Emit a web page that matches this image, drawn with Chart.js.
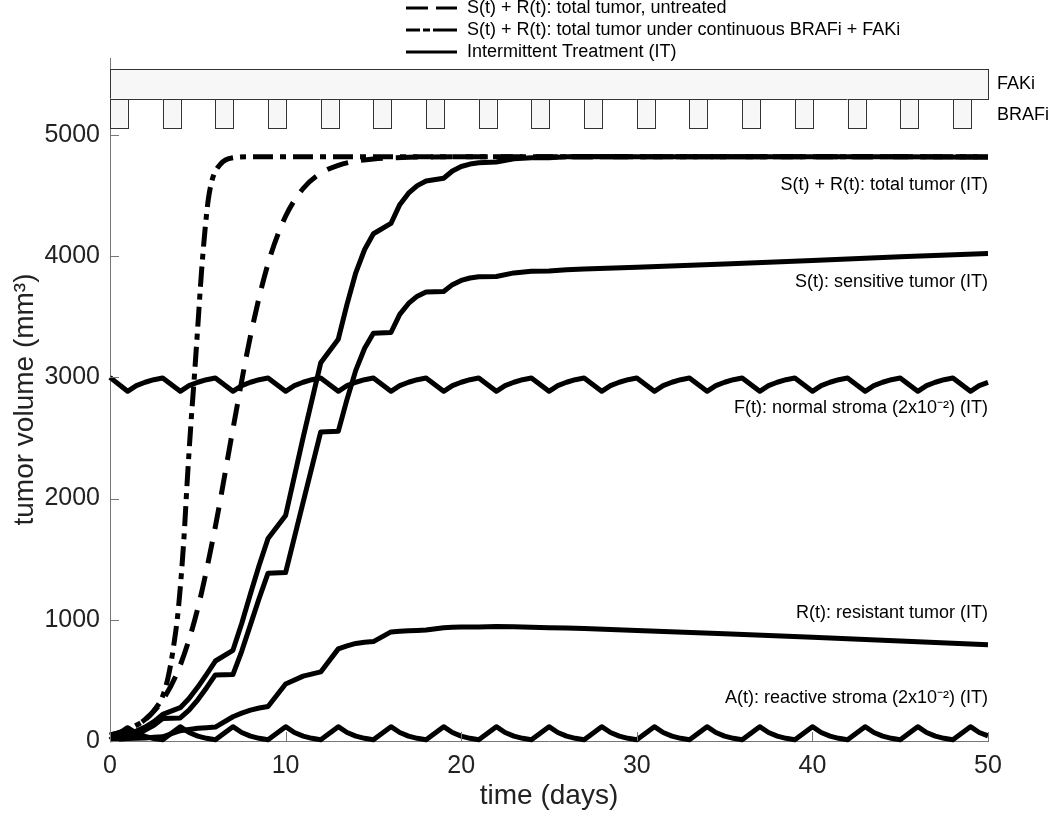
<!DOCTYPE html>
<html>
<head>
<meta charset="utf-8">
<script src="https://cdn.jsdelivr.net/npm/chart.js@4.4.0/dist/chart.umd.min.js"></script>
<style>
  html, body { margin: 0; padding: 0; background: #fff; }
</style>
</head>
<body>
<canvas id="myChart" width="1050" height="818"></canvas>
<script>
// untreated total tumour (dashed)
const untreatedDays = [0, 1, 2, 3, 4, 5, 6, 7, 8, 9, 10, 11, 12, 13, 14, 15, 16, 17, 18, 20, 50];
const untreated = [47, 92, 178, 338, 625, 1095, 1770, 2573, 3342, 3938, 4329, 4558, 4684, 4750, 4784, 4802, 4811, 4816, 4818, 4820, 4820];

// continuous BRAFi + FAKi total tumour (dash-dot)
const continuousDays = [0, 0.5, 1, 1.5, 2, 2.5, 3, 3.3, 3.6, 3.9, 4.2, 4.4, 4.6, 4.8, 5, 5.2, 5.4, 5.6, 5.8, 6, 6.3, 6.6, 7, 8, 50];
const continuous = [50, 70, 95, 130, 175, 250, 370, 520, 760, 1100, 1650, 2150, 2600, 3000, 3420, 3850, 4200, 4470, 4620, 4700, 4760, 4795, 4812, 4820, 4820];

// intermittent treatment curves
const itDays = [0, 1, 1.5, 2, 2.5, 3, 4, 4.5, 5, 5.5, 6, 7, 7.5, 8, 8.5, 9, 10, 11, 12, 13, 13.5, 14, 14.5, 15, 16, 16.5, 17, 17.5, 18, 19, 19.5, 20, 20.5, 21, 22, 23, 24, 25, 26, 27, 30, 35, 40, 45, 50];
const totalIT = [50, 62, 82, 115, 160, 220, 275, 350, 445, 550, 660, 748, 970, 1215, 1452, 1670, 1860, 2505, 3120, 3315, 3605, 3865, 4055, 4185, 4270, 4425, 4520, 4582, 4620, 4643, 4703, 4740, 4760, 4770, 4777, 4804, 4813, 4813, 4820, 4823, 4820, 4820, 4820, 4820, 4817];
const sensitive = [40, 42, 60, 90, 130, 185, 190, 255, 340, 440, 545, 548, 740, 960, 1180, 1385, 1390, 1970, 2550, 2555, 2820, 3060, 3240, 3365, 3370, 3520, 3610, 3670, 3705, 3708, 3765, 3800, 3820, 3830, 3832, 3862, 3875, 3878, 3888, 3895, 3908, 3935, 3965, 3995, 4022];
const resistant = [10, 20, 22, 25, 30, 35, 85, 95, 105, 110, 115, 200, 230, 255, 272, 285, 470, 535, 570, 760, 785, 805, 815, 820, 900, 905, 910, 912, 915, 935, 938, 940, 940, 940, 945, 942, 938, 935, 932, 928, 912, 885, 855, 825, 795];

// stroma (scaled 2x10^-2)
const stromaDays = [0, 1, 1.5, 2, 2.5, 3, 4, 4.5, 5, 5.5, 6, 7, 7.5, 8, 8.5, 9, 10, 10.5, 11, 11.5, 12, 13, 13.5, 14, 14.5, 15, 16, 16.5, 17, 17.5, 18, 19, 19.5, 20, 20.5, 21, 22, 22.5, 23, 23.5, 24, 25, 25.5, 26, 26.5, 27, 28, 28.5, 29, 29.5, 30, 31, 31.5, 32, 32.5, 33, 34, 34.5, 35, 35.5, 36, 37, 37.5, 38, 38.5, 39, 40, 40.5, 41, 41.5, 42, 43, 43.5, 44, 44.5, 45, 46, 46.5, 47, 47.5, 48, 49, 49.5, 50];
const normalStroma = [3000,
  2885, 2932, 2960, 2981, 2995,
  2885, 2932, 2960, 2981, 2995,
  2885, 2932, 2960, 2981, 2995,
  2885, 2932, 2960, 2981, 2995,
  2885, 2932, 2960, 2981, 2995,
  2885, 2932, 2960, 2981, 2995,
  2885, 2932, 2960, 2981, 2995,
  2885, 2932, 2960, 2981, 2995,
  2885, 2932, 2960, 2981, 2995,
  2885, 2932, 2960, 2981, 2995,
  2885, 2932, 2960, 2981, 2995,
  2885, 2932, 2960, 2981, 2995,
  2885, 2932, 2960, 2981, 2995,
  2885, 2932, 2960, 2981, 2995,
  2885, 2932, 2960, 2981, 2995,
  2885, 2932, 2960, 2981, 2995,
  2885, 2932, 2958];
const reactiveStroma = [10,
  110, 65, 38, 20, 10,
  118, 70, 40, 22, 10,
  118, 70, 40, 22, 10,
  118, 70, 40, 22, 10,
  118, 70, 40, 22, 10,
  118, 70, 40, 22, 10,
  118, 70, 40, 22, 10,
  118, 70, 40, 22, 10,
  118, 70, 40, 22, 10,
  118, 70, 40, 22, 10,
  118, 70, 40, 22, 10,
  118, 70, 40, 22, 10,
  118, 70, 40, 22, 10,
  118, 70, 40, 22, 10,
  118, 70, 40, 22, 10,
  118, 70, 40, 22, 10,
  118, 70, 42];

// treatment schedule
const brafiStart = [0, 3, 6, 9, 12, 15, 18, 21, 24, 27, 30, 33, 36, 39, 42, 45, 48];
const brafiLength = 1;
const fakiWindow = [0, 50];

const xTicks = [0, 10, 20, 30, 40, 50];
const yTicks = [0, 1000, 2000, 3000, 4000, 5000];

const legendLabels = [
    'S(t) + R(t): total tumor, untreated',
    'S(t) + R(t): total tumor under continuous BRAFi + FAKi',
    'Intermittent Treatment (IT)'
];
const curveLabels = [
    ['S(t) + R(t): total tumor (IT)', 4590],
    ['S(t): sensitive tumor (IT)', 3790],
    ['F(t): normal stroma (2x10\u207B\u00B2) (IT)', 2750],
    ['R(t): resistant tumor (IT)', 1055],
    ['A(t): reactive stroma (2x10\u207B\u00B2) (IT)', 355]
];

const FONT = "'Liberation Sans', Arial, Helvetica, sans-serif";

function toPoints(xs, ys) {
    return xs.map((x, i) => ({x: x, y: ys[i]}));
}

const curve = {
    borderColor: '#000',
    borderWidth: 5,
    pointRadius: 0,
    fill: false,
    borderJoinStyle: 'round',
    clip: 6
};

// FAKi bar and BRAFi pulses above the curves
const schedulePlugin = {
    id: 'schedule',
    beforeDatasetsDraw(chart) {
        const {ctx, scales: {x, y}} = chart;
        ctx.save();
        ctx.fillStyle = '#f7f7f7';
        ctx.strokeStyle = '#333';
        ctx.lineWidth = 1;
        const fx0 = x.getPixelForValue(fakiWindow[0]);
        const fx1 = x.getPixelForValue(fakiWindow[1]);
        const fTop = y.getPixelForValue(5545);
        const fBot = y.getPixelForValue(5300);
        ctx.fillRect(fx0, fTop, fx1 - fx0, fBot - fTop);
        ctx.strokeRect(Math.round(fx0) + 0.5, Math.round(fTop) + 0.5, Math.round(fx1 - fx0), Math.round(fBot - fTop));
        const bBot = y.getPixelForValue(5060);
        brafiStart.forEach(d => {
            const bx0 = x.getPixelForValue(d);
            const bx1 = x.getPixelForValue(d + brafiLength);
            ctx.fillRect(bx0, fBot, bx1 - bx0, bBot - fBot);
            ctx.strokeRect(Math.round(bx0) + 0.5, Math.round(fBot) + 0.5, Math.round(bx1 - bx0), Math.round(bBot - fBot));
        });
        ctx.fillStyle = '#000';
        ctx.font = '18px ' + FONT;
        ctx.textAlign = 'left';
        ctx.textBaseline = 'middle';
        ctx.fillText('FAKi', fx1 + 9, (fTop + fBot) / 2);
        ctx.fillText('BRAFi', fx1 + 9, (fBot + bBot) / 2 + 2);
        ctx.restore();
    }
};

// inward ticks, legend and curve labels
const decorPlugin = {
    id: 'decor',
    afterDraw(chart) {
        const {ctx, scales: {x, y}, chartArea} = chart;
        ctx.save();
        ctx.strokeStyle = '#777';
        ctx.lineWidth = 1;
        ctx.beginPath();
        x.ticks.forEach(t => {
            const px = Math.round(x.getPixelForValue(t.value)) + 0.5;
            ctx.moveTo(px, chartArea.bottom);
            ctx.lineTo(px, chartArea.bottom - 9);
        });
        y.ticks.forEach(t => {
            const py = Math.round(y.getPixelForValue(t.value)) + 0.5;
            ctx.moveTo(chartArea.left, py);
            ctx.lineTo(chartArea.left + 9, py);
        });
        ctx.stroke();

        // legend
        ctx.strokeStyle = '#000';
        ctx.lineWidth = 3;
        const dashes = [[22, 8], [14, 3, 7, 3, 24, 100], []];
        ctx.fillStyle = '#000';
        ctx.font = '18px ' + FONT;
        ctx.textAlign = 'left';
        ctx.textBaseline = 'middle';
        legendLabels.forEach((lab, i) => {
            const ly = 8 + i * 22;
            ctx.setLineDash(dashes[i]);
            ctx.beginPath();
            ctx.moveTo(406, ly);
            ctx.lineTo(457, ly);
            ctx.stroke();
            ctx.fillText(lab, 467, ly);
        });
        ctx.setLineDash([]);

        // curve labels
        ctx.textAlign = 'right';
        curveLabels.forEach(([lab, v]) => {
            ctx.fillText(lab, chartArea.right, y.getPixelForValue(v));
        });
        ctx.restore();
    }
};

const ctx = document.querySelector('#myChart');

const graph = new Chart(ctx, {
    type: 'line',
    data: {
        datasets: [
            Object.assign({label: legendLabels[0], data: toPoints(untreatedDays, untreated), borderDash: [22, 13], cubicInterpolationMode: 'monotone'}, curve),
            Object.assign({label: legendLabels[1], data: toPoints(continuousDays, continuous), borderDash: [20, 7, 6, 7], cubicInterpolationMode: 'monotone'}, curve),
            Object.assign({label: 'S(t) + R(t) (IT)', data: toPoints(itDays, totalIT), tension: 0}, curve),
            Object.assign({label: 'S(t) (IT)', data: toPoints(itDays, sensitive), tension: 0}, curve),
            Object.assign({label: 'R(t) (IT)', data: toPoints(itDays, resistant), tension: 0}, curve),
            Object.assign({label: 'F(t) (IT)', data: toPoints(stromaDays, normalStroma), tension: 0}, curve),
            Object.assign({label: 'A(t) (IT)', data: toPoints(stromaDays, reactiveStroma), tension: 0}, curve)
        ]
    },
    options: {
        responsive: false,
        animation: false,
        devicePixelRatio: 1,
        layout: {
            padding: {top: 58, right: 62, left: 0, bottom: 0}
        },
        plugins: {
            legend: {display: false},
            tooltip: {enabled: false}
        },
        scales: {
            x: {
                type: 'linear',
                min: 0,
                max: 50,
                afterFit: (s) => { s.height = 77; },
                afterBuildTicks: (s) => { s.ticks = xTicks.map(v => ({value: v})); },
                grid: {display: true, drawOnChartArea: false, drawTicks: false},
                border: {display: true, color: '#777', width: 1},
                ticks: {padding: 10, color: '#222', font: {family: FONT, size: 25}, callback: (v) => String(v)},
                title: {display: true, text: 'time (days)', color: '#222', padding: {top: 0, bottom: 5}, font: {family: FONT, size: 28}}
            },
            y: {
                min: 0,
                max: 5635,
                afterFit: (s) => { s.width = 110; },
                afterBuildTicks: (s) => { s.ticks = yTicks.map(v => ({value: v})); },
                grid: {display: true, drawOnChartArea: false, drawTicks: false},
                border: {display: true, color: '#777', width: 1},
                ticks: {padding: 10, color: '#222', font: {family: FONT, size: 25}, callback: (v) => String(v)},
                title: {display: true, text: 'tumor volume (mm\u00B3)', color: '#222', padding: {top: 8, bottom: 0}, font: {family: FONT, size: 28}}
            }
        }
    },
    plugins: [schedulePlugin, decorPlugin]
});
</script>
</body>
</html>
